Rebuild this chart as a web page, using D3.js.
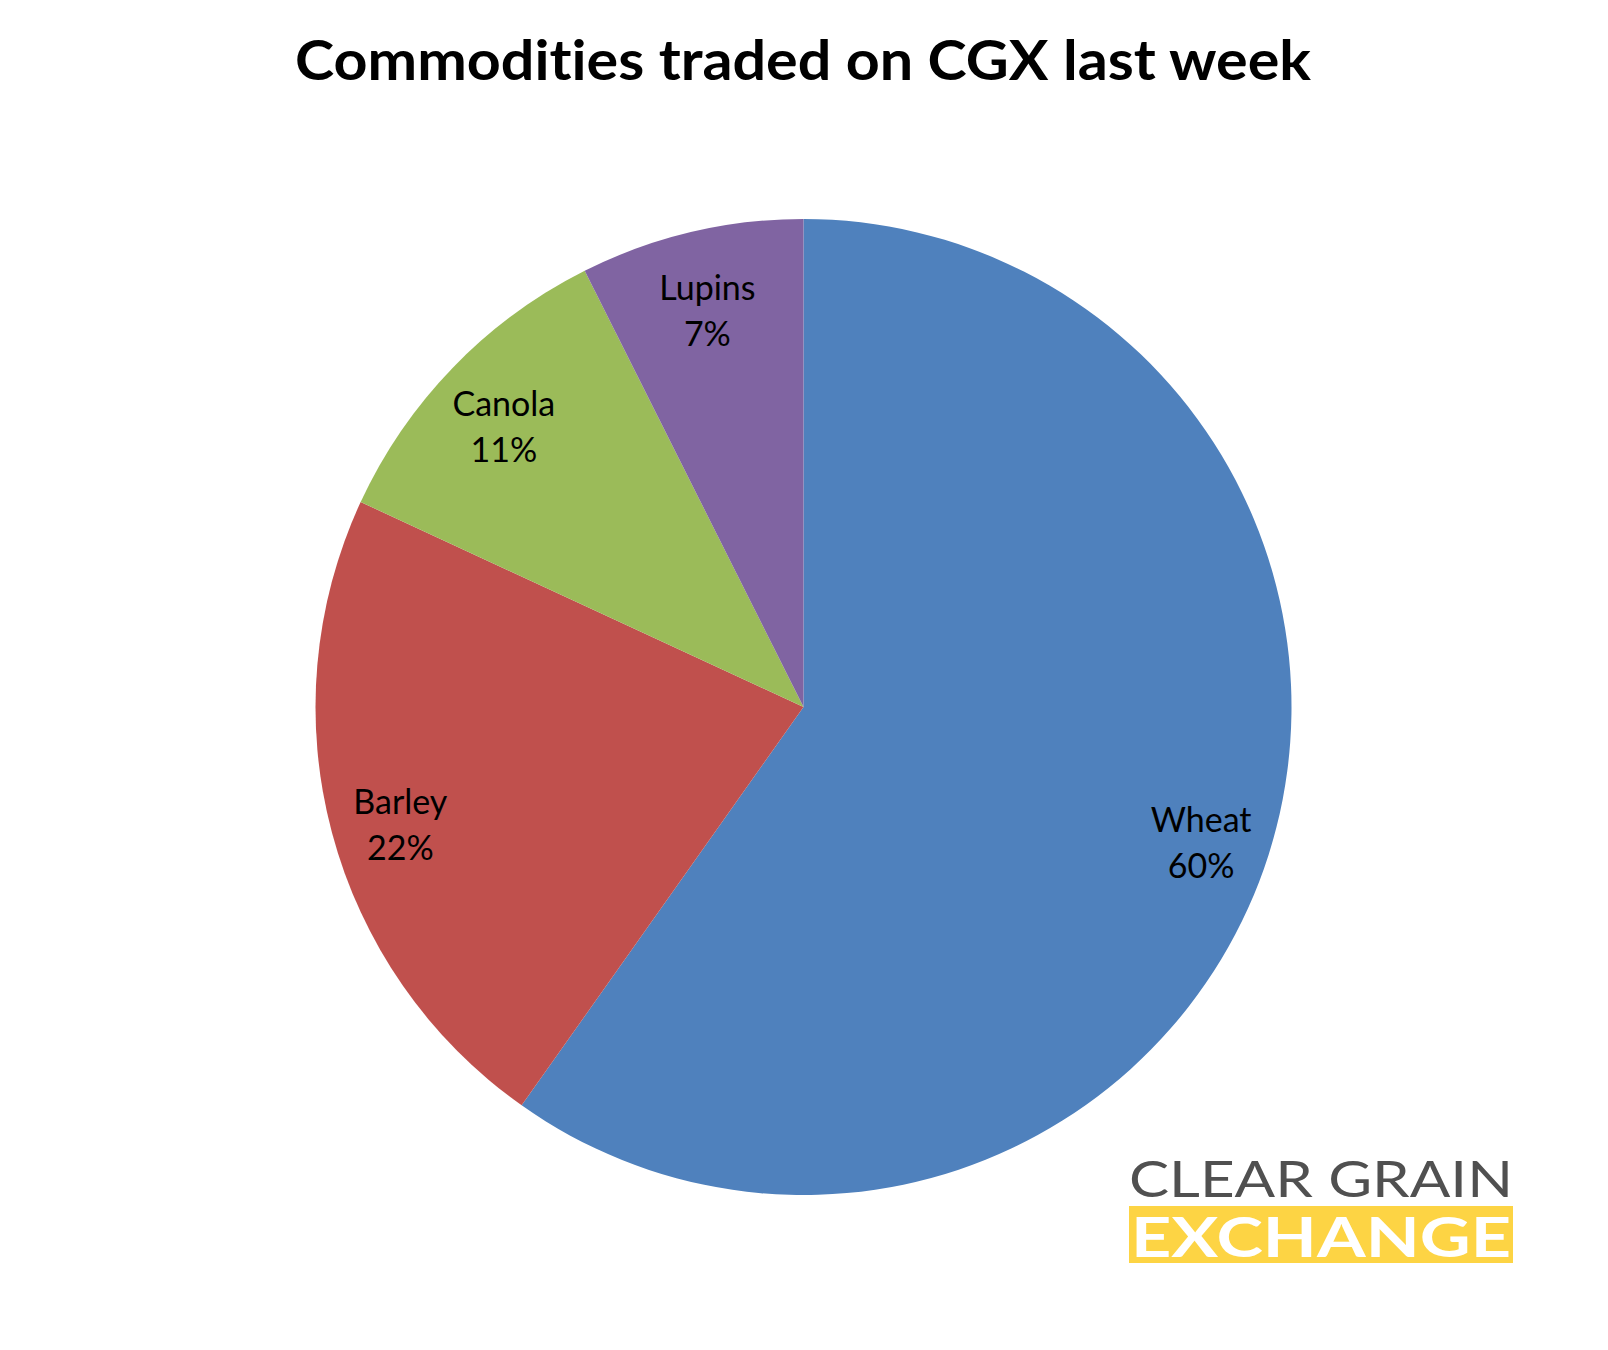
<!DOCTYPE html>
<html><head><meta charset="utf-8">
<script src="https://cdn.jsdelivr.net/npm/d3@7"></script>
<style>html,body{margin:0;padding:0;background:#fff}svg{display:block}text{font-variant-ligatures:none;font-feature-settings:"liga" 0}</style>
</head><body>
<script>
const categories = ["Wheat", "Barley", "Canola", "Lupins"];
const values = [59.8, 22.1, 10.7, 7.4];
const colors = ["#4F81BD", "#C0504D", "#9BBB59", "#8064A2"];
const titleText = "Commodities traded on CGX last week";
const logoTop = "CLEAR GRAIN";
const logoBottom = "EXCHANGE";

const W = 1608, H = 1350;
const svg = d3.select("body").append("svg").attr("width", W).attr("height", H);

const cx = 803.5, cy = 707, R = 488;
const total = d3.sum(values);
const data = categories.map((c, i) => ({name: c, value: values[i], color: colors[i]}));
const pie = d3.pie().value(d => d.value).sort(null);
const arcs = pie(data);
const arc = d3.arc().innerRadius(0).outerRadius(R);
const labelArc = d3.arc().innerRadius(R * 0.855).outerRadius(R * 0.855);

const g = svg.append("g").attr("transform", `translate(${cx},${cy})`);
g.selectAll("path.slice").data(arcs).join("path")
  .attr("class", "slice")
  .attr("d", arc)
  .attr("fill", d => d.data.color);

const lab = g.selectAll("text.lab").data(arcs).join("text")
  .attr("class", "lab")
  .attr("transform", d => `translate(${labelArc.centroid(d)})`)
  .attr("text-anchor", "middle")
  .attr("font-family", "Lato, 'Open Sans', sans-serif")
  .attr("font-size", 34)
  .attr("fill", "#000");
lab.append("tspan").attr("x", 0).attr("y", -1).text(d => d.data.name);
lab.append("tspan").attr("x", 0).attr("y", 45).text(d => Math.round(d.data.value / total * 100) + "%");

svg.append("text")
  .attr("x", 803).attr("y", 80)
  .attr("text-anchor", "middle")
  .attr("font-family", "Lato, 'Open Sans', sans-serif")
  .attr("font-weight", 700)
  .attr("font-size", 56)
  .attr("textLength", 1016)
  .attr("lengthAdjust", "spacingAndGlyphs")
  .attr("fill", "#000")
  .text(titleText);

// Logo
const logo = svg.append("g");
logo.append("text")
  .attr("x", 1129).attr("y", 1197)
  .attr("font-family", "Lato, 'Open Sans', sans-serif")
  .attr("font-weight", 400)
  .attr("font-size", 50)
  .attr("textLength", 384)
  .attr("lengthAdjust", "spacingAndGlyphs")
  .attr("fill", "#505050")
  .text(logoTop);
logo.append("rect")
  .attr("x", 1129).attr("y", 1206).attr("width", 384).attr("height", 57)
  .attr("fill", "#FDD444");
logo.append("text")
  .attr("x", 1131).attr("y", 1257)
  .attr("font-family", "Lato, 'Open Sans', sans-serif")
  .attr("font-weight", 700)
  .attr("font-size", 55)
  .attr("textLength", 380)
  .attr("lengthAdjust", "spacingAndGlyphs")
  .attr("fill", "#fff")
  .text(logoBottom);
</script>
</body></html>
